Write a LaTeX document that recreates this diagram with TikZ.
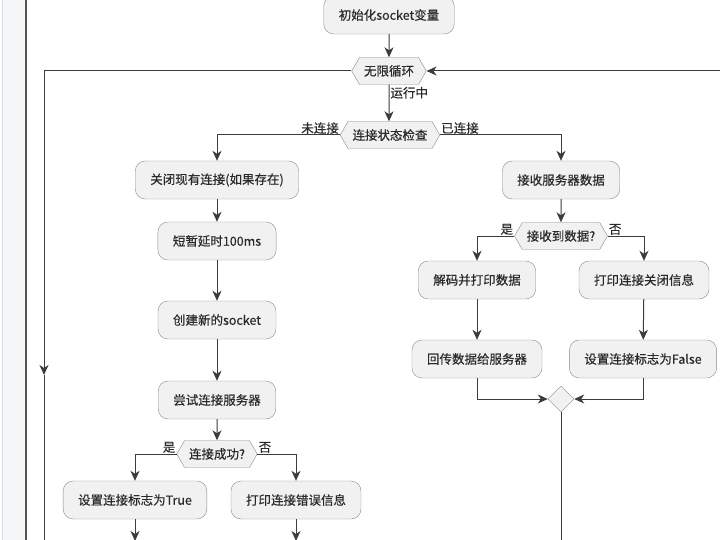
\documentclass[tikz,border=0pt]{standalone}
\usepackage{fontspec}
\setmainfont{Noto Sans CJK SC}[FakeBold=0.4]
\usetikzlibrary{arrows.meta,shapes.geometric,shapes.symbols}
\definecolor{boxfill}{HTML}{F1F1F1}
\definecolor{boxline}{HTML}{8A8A8A}
\definecolor{flowline}{HTML}{3C3C3C}
\definecolor{txt}{HTML}{2A2A2A}
\definecolor{stripfill}{HTML}{F6F7F9}
\definecolor{stripedge}{HTML}{DADCE0}
\definecolor{framebar}{HTML}{555555}
\tikzset{
	act/.style={draw=boxline,fill=boxfill,rounded corners=10pt,minimum height=38pt,inner xsep=15pt,text=txt},
	cond/.style={draw=boxline,fill=boxfill,signal,signal to=east and west,signal pointer angle=120,minimum height=27pt,inner xsep=4.5pt,inner ysep=2pt,text=txt},
	merge/.style={draw=boxline,fill=boxfill,diamond,minimum size=26pt,inner sep=0pt},
	flow/.style={draw=flowline,line width=1pt,-{Stealth[length=10pt,width=9pt,inset=3pt]}},
	lbl/.style={text=txt,inner sep=1pt}
}
\begin{document}
\begin{tikzpicture}[x=1pt,y=-1pt,font=\fontsize{12.5}{15}\selectfont]
	\useasboundingbox (0,0) rectangle (720,540);
	% frame on the left
	\fill[stripfill] (3,0) rectangle (25,540);
	\draw[stripedge,line width=0.6pt] (2.5,0)--(2.5,540);
	\draw[framebar,line width=2pt] (26,0)--(26,540);
	% nodes
	\node[act] (init) at (389,15) {初始化socket变量};
	\node[cond] (loop) at (389,71) {无限循环};
	\node[cond] (check) at (390,135) {连接状态检查};
	\node[act] (close) at (217,180) {关闭现有连接(如果存在)};
	\node[act] (delay) at (217,241) {短暂延时100ms};
	\node[act] (create) at (217,320) {创建新的socket};
	\node[act] (try) at (217,400) {尝试连接服务器};
	\node[cond] (ok) at (217,454) {连接成功?};
	\node[act] (settrue) at (135,500) {设置连接标志为True};
	\node[act] (printerr) at (296,500) {打印连接错误信息};
	\node[act] (recv) at (561,180) {接收服务器数据};
	\node[cond] (got) at (561,236) {接收到数据?};
	\node[act] (decode) at (477,280) {解码并打印数据};
	\node[act] (closeinfo) at (644,280) {打印连接关闭信息};
	\node[act] (sendback) at (477,359) {回传数据给服务器};
	\node[act] (setfalse) at (643,359) {设置连接标志为False};
	\node[merge] (join) at (561,399) {};
	\coordinate (back) at (722,71);
	\coordinate (exit) at (44,375);
	\coordinate (exitend) at (44,545);
	\coordinate (trueend) at (135,541);
	\coordinate (errend) at (296,541);
	\coordinate (joinend) at (561,545);
	% connectors
	\draw[flow] (init)--(loop);
	\draw[flow] (back)--(loop.east);
	\draw[flow] (loop.west)-|(exit);
	\draw[draw=flowline,line width=1pt] (exit)--(exitend);
	\draw[flow] (loop)--(loop|-check.north) node[lbl,pos=0.22,right]{运行中};
	\draw[flow] (check.west)-|(close.north);
	\node[lbl,above left] at (check.west) {未连接};
	\draw[flow] (check.east)-|(recv.north);
	\node[lbl,above right] at (check.east) {已连接};
	\draw[flow] (close)--(delay);
	\draw[flow] (delay)--(create);
	\draw[flow] (create)--(try);
	\draw[flow] (try)--(ok);
	\draw[flow] (ok.west)-|(settrue.north);
	\node[lbl,above left] at (ok.west) {是};
	\draw[flow] (ok.east)-|(printerr.north);
	\node[lbl,above right] at (ok.east) {否};
	\draw[flow] (settrue)--(trueend);
	\draw[flow] (printerr)--(errend);
	\draw[flow] (recv)--(got);
	\draw[flow] (got.west)-|(decode.north);
	\node[lbl,above left] at (got.west) {是};
	\draw[flow] (got.east)-|(closeinfo.north);
	\node[lbl,above right] at (got.east) {否};
	\draw[flow] (decode)--(sendback);
	\draw[flow] (closeinfo)--(setfalse);
	\draw[flow] (sendback.south)|-(join.west);
	\draw[flow] (setfalse.south)|-(join.east);
	\draw[draw=flowline,line width=1pt] (join.south)--(joinend);
\end{tikzpicture}
\end{document}
